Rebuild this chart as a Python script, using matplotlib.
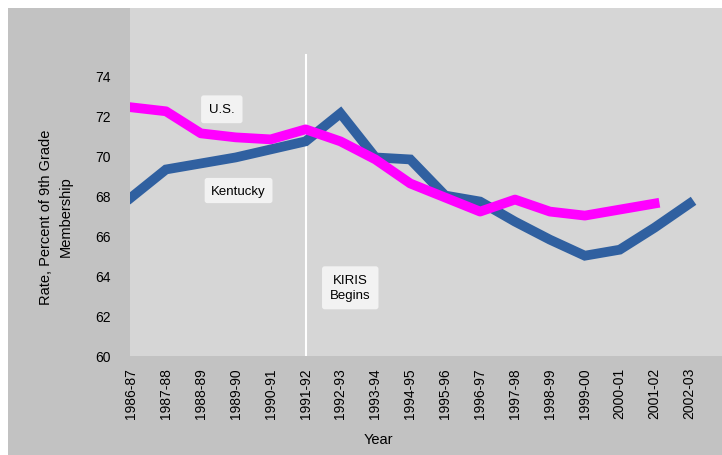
import matplotlib
matplotlib.use("Agg")
import matplotlib.pyplot as plt
from matplotlib.patches import Rectangle

plt.rcParams['font.family'] = ['Liberation Sans', 'DejaVu Sans']

years = ["1986-87", "1987-88", "1988-89", "1989-90", "1990-91", "1991-92",
         "1992-93", "1993-94", "1994-95", "1995-96", "1996-97", "1997-98",
         "1998-99", "1999-00", "2000-01", "2001-02", "2002-03"]
kentucky = [67.9, 69.3, 69.6, 69.9, 70.3, 70.7, 72.1, 69.9, 69.8, 68.0,
            67.7, 66.7, 65.8, 65.0, 65.3, 66.4, 67.6]
us = [72.4, 72.2, 71.1, 70.9, 70.8, 71.3, 70.7, 69.8, 68.6, 67.9,
      67.2, 67.8, 67.2, 67.0, 67.3, 67.6]
y_ticks = [60, 62, 64, 66, 68, 70, 72, 74]
kiris_year = "1991-92"

W, H = 722, 456
fig = plt.figure(figsize=(W / 100, H / 100), dpi=100)
fig.patch.set_facecolor("white")
fig.patches.append(Rectangle((8 / W, 0), 1 - 8 / W, 1 - 9 / H,
                             transform=fig.transFigure, facecolor="#c2c2c2",
                             edgecolor="none", zorder=-5))

ax = fig.add_axes([130 / W, (H - 357) / H, 1 - 130 / W, (357 - 9) / H])
ax.set_zorder(1)
ax.set_facecolor("#d6d6d6")
for s in ax.spines.values():
    s.set_visible(False)

x = list(range(len(years)))
ax.plot(x, kentucky, color="#3060a0", lw=7, solid_joinstyle="miter", zorder=3)
ax.plot(x[:len(us)], us, color="#ff00ff", lw=7, solid_joinstyle="round", zorder=4)

kx = years.index(kiris_year)
ax.plot([kx, kx], [60, 75.0], color="white", lw=1.5, zorder=2)

box = dict(boxstyle="round,pad=0.6,rounding_size=0.2", fc="#f2f2f2", ec="none")
ax.text(2.6, 72.3, "U.S.", fontsize=9.5, ha="center", va="center", bbox=box, zorder=5)
ax.text(3.08, 68.25, "Kentucky", fontsize=9.5, ha="center", va="center",
        bbox=dict(box, boxstyle="round,pad=0.5,rounding_size=0.2"), zorder=5)
ax.text(6.28, 63.4, "KIRIS\nBegins", fontsize=9.5, ha="center", va="center",
        linespacing=1.35, bbox=box, zorder=5)

ax.set_xlim(-0.03, 16.93)
ax.set_ylim(60, 77.35)
ax.set_yticks(y_ticks)
ax.set_yticklabels([str(t) for t in y_ticks], fontsize=10)
ax.set_xticks(x)
ax.set_xticklabels(years, rotation=90, fontsize=10)
ax.tick_params(length=0, pad=14)
ax.tick_params(axis="x", pad=8)

fig.text(56 / W, 1 - 217 / H, "Rate, Percent of 9th Grade\nMembership",
         rotation=90, ha="center", va="center", fontsize=10.5, linespacing=1.5)
fig.text(378 / W, 1 - 440 / H, "Year", ha="center", va="center", fontsize=10.5)

fig.savefig("out.png", dpi=100)
